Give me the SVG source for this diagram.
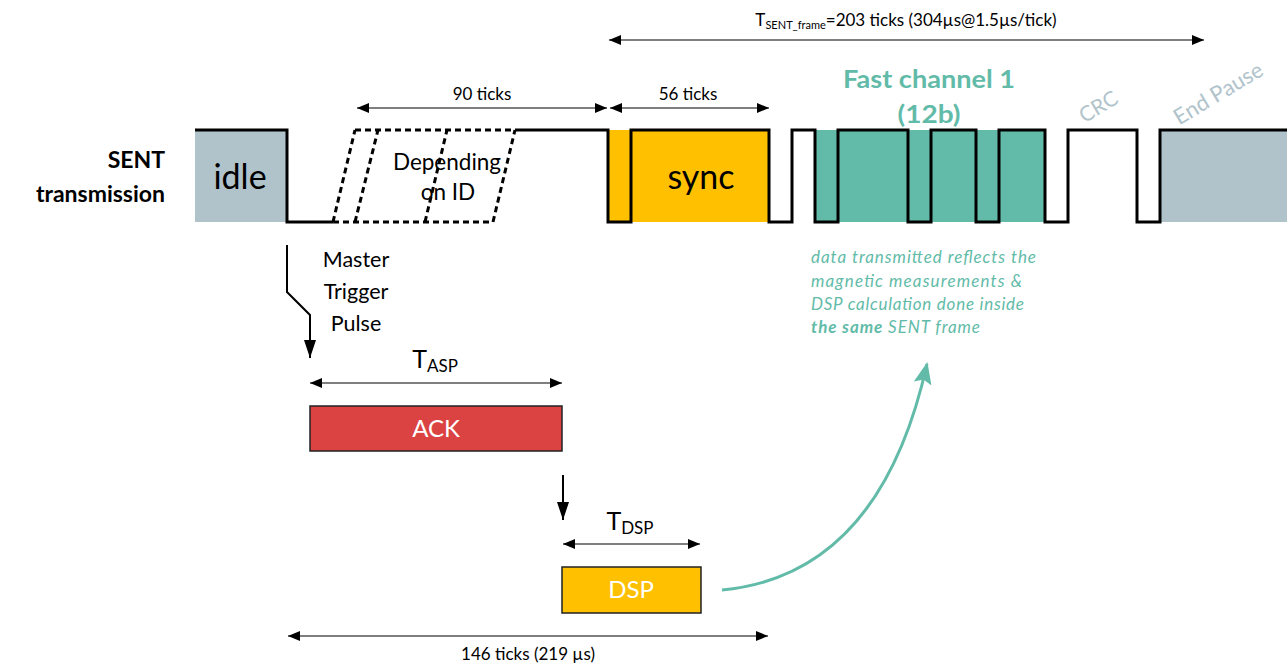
<svg xmlns="http://www.w3.org/2000/svg" width="1287" height="664" viewBox="0 0 1287 664">
<defs>
<marker id="ah" viewBox="0 0 12 10" refX="12" refY="5" markerWidth="12" markerHeight="10" markerUnits="userSpaceOnUse" orient="auto-start-reverse"><path d="M0,0 L12,5 L0,10 Z" fill="#000"/></marker>
<marker id="bh" viewBox="0 0 18 12" refX="18" refY="6" markerWidth="18" markerHeight="12" markerUnits="userSpaceOnUse" orient="auto"><path d="M0,0 L18,6 L0,12 Z" fill="#000"/></marker>
<marker id="th" viewBox="0 0 22 18" refX="20" refY="9" markerWidth="22" markerHeight="18" markerUnits="userSpaceOnUse" orient="auto"><path d="M0,0 L22,9 L0,18 L4,9 Z" fill="#62bba8"/></marker>
<style>
text{font-family:Lato,"Liberation Sans",sans-serif}
.wave{fill:none;stroke:#000;stroke-width:3}
.dash{fill:none;stroke:#000;stroke-width:3;stroke-dasharray:6 4}
.dim{stroke:#000;stroke-width:1.2;fill:none}
.lbl{font-size:17px;fill:#000;text-anchor:middle}
.big{font-size:34px;fill:#000;text-anchor:middle}
.box{stroke:#222;stroke-width:1.5}
.wt{font-size:24px;fill:#fff;text-anchor:middle}
.note{font-size:17px;fill:#62bba8;font-style:italic}
</style>
</defs>
<g id="signal">
<rect x="195" y="130" width="92" height="92" fill="#b0c3cb"/>
<rect x="608" y="130" width="161" height="92" fill="#ffc000"/>
<rect x="815" y="130" width="230" height="92" fill="#62bba8"/>
<rect x="1160" y="130" width="127" height="92" fill="#b0c3cb"/>
<path class="wave" d="M195,130 H287 V222 H333"/>
<path class="dash" d="M333,222 H493 M355,130 H515 M333,222 L355,130 M355,222 L378,130 M425,222 L447,130 M493,222 L515,130"/>
<path class="wave" d="M515,130 H608 V222 H631 V130 H769 V222 H792 V130 H815 V222 H838 V130 H908 V222 H931 V130 H976 V222 H999 V130 H1045 V222 H1068 V130 H1137 V222 H1160 V130 H1287"/>
</g>
<g id="labels">
<text x="165" y="168" font-size="23" font-weight="bold" text-anchor="end">SENT</text>
<text x="165" y="202" font-size="23" font-weight="bold" text-anchor="end">transmission</text>
<text class="big" x="240" y="189">idle</text>
<text class="big" x="701" y="189">sync</text>
<text x="447" y="170" font-size="22.5" text-anchor="middle">Depending</text>
<text x="448" y="200" font-size="22.5" text-anchor="middle">on ID</text>
<text x="929" y="88" font-size="24" font-weight="bold" fill="#62bba8" text-anchor="middle" textLength="172" lengthAdjust="spacingAndGlyphs">Fast channel 1</text>
<text x="929" y="123" font-size="24" font-weight="bold" fill="#62bba8" text-anchor="middle" textLength="63" lengthAdjust="spacingAndGlyphs">(12b)</text>
<text x="1098" y="114" font-size="21" fill="#b0c3cb" text-anchor="middle" transform="rotate(-31 1098 106)">CRC</text>
<text x="1218" y="101" font-size="22" fill="#b0c3cb" text-anchor="middle" transform="rotate(-31 1218 93)">End Pause</text>
</g>
<g id="dimensions">
<line class="dim" x1="609" y1="40" x2="1204" y2="40" marker-start="url(#ah)" marker-end="url(#ah)"/>
<text x="906" y="26" font-size="17" text-anchor="middle">T<tspan font-size="11" dy="3">SENT_frame</tspan><tspan dy="-3">=203 ticks (304µs@1.5µs/tick)</tspan></text>
<line class="dim" x1="357" y1="108" x2="607" y2="108" marker-start="url(#ah)" marker-end="url(#ah)"/>
<text class="lbl" x="482" y="100">90 ticks</text>
<line class="dim" x1="610" y1="108" x2="769" y2="108" marker-start="url(#ah)" marker-end="url(#ah)"/>
<text class="lbl" x="688" y="100">56 ticks</text>
<line class="dim" x1="310" y1="383" x2="562" y2="383" marker-start="url(#ah)" marker-end="url(#ah)"/>
<text x="435" y="368" font-size="25" text-anchor="middle">T<tspan font-size="17" dy="4">ASP</tspan></text>
<line class="dim" x1="563" y1="544" x2="700" y2="544" marker-start="url(#ah)" marker-end="url(#ah)"/>
<text x="630" y="530" font-size="25" text-anchor="middle">T<tspan font-size="17" dy="4">DSP</tspan></text>
<line class="dim" x1="288" y1="636" x2="768" y2="636" marker-start="url(#ah)" marker-end="url(#ah)"/>
<text class="lbl" x="528" y="660">146 ticks (219 µs)</text>
</g>
<g id="trigger">
<path d="M287,245 V292 L310,315 V358" fill="none" stroke="#000" stroke-width="2" marker-end="url(#bh)"/>
<text x="356" y="267" font-size="21.5" text-anchor="middle">Master</text>
<text x="356" y="299" font-size="21.5" text-anchor="middle">Trigger</text>
<text x="356" y="331" font-size="21.5" text-anchor="middle">Pulse</text>
</g>
<g id="ack">
<rect class="box" x="310" y="406" width="252" height="45" fill="#db4343"/>
<text class="wt" x="436" y="437">ACK</text>
</g>
<g id="ack-dsp">
<line x1="563" y1="475" x2="563" y2="520" stroke="#000" stroke-width="2" marker-end="url(#bh)"/>
</g>
<g id="dsp">
<rect class="box" x="562" y="567" width="139" height="46" fill="#ffc000"/>
<text class="wt" x="631" y="598">DSP</text>
</g>
<g id="note">
<path d="M722,590 Q880,575 927,364" fill="none" stroke="#62bba8" stroke-width="3" marker-end="url(#th)"/>
<text class="note" x="811" y="263" textLength="225" lengthAdjust="spacing">data transmitted reflects the</text>
<text class="note" x="811" y="287" textLength="211" lengthAdjust="spacing">magnetic measurements &amp;</text>
<text class="note" x="811" y="310" textLength="213" lengthAdjust="spacing">DSP calculation done inside</text>
<text class="note" x="811" y="333" textLength="169" lengthAdjust="spacing"><tspan font-weight="bold">the same</tspan> SENT frame</text>
</g>
</svg>
